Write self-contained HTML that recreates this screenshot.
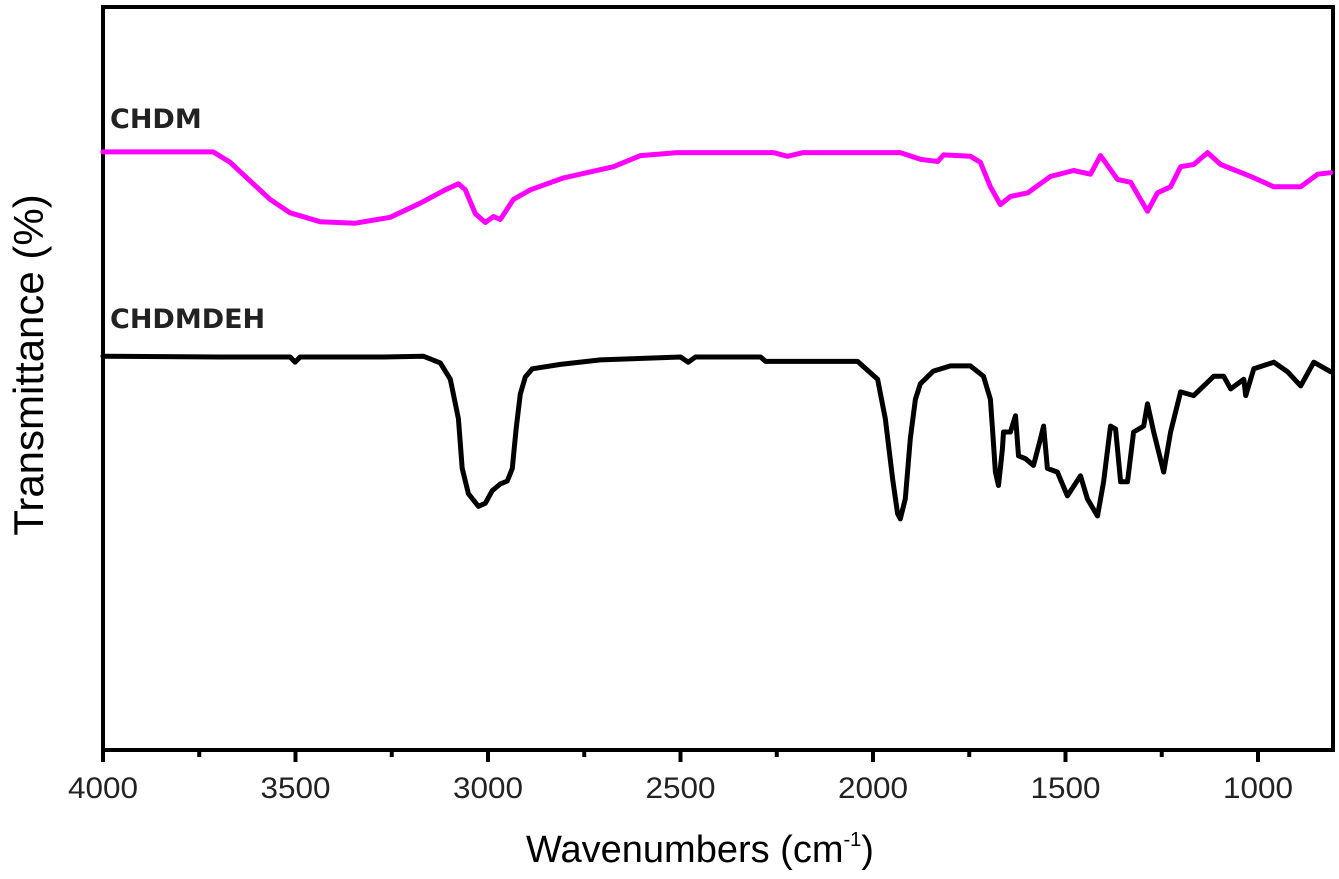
<!DOCTYPE html>
<html><head><meta charset="utf-8"><style>
html,body{margin:0;padding:0;background:#fff;}
svg{display:block;font-family:"Liberation Sans",sans-serif;}
</style></head><body>
<svg id="chart" width="1339" height="879" viewBox="0 0 1339 879">
<g id="plot"></g>
</svg>
<script>
const xTicks = [4000, 3500, 3000, 2500, 2000, 1500, 1000];
const minorTicks = [3750, 3250, 2750, 2250, 1750, 1250];
const chdmWn = [4000,3714,3670,3618,3566,3514,3436,3345,3254,3176,3111,3077,3059,3033,3007,2986,2968,2934,2890,2804,2674,2604,2508,2259,2222,2181,1929,1877,1832,1817,1747,1721,1695,1669,1643,1598,1539,1479,1435,1409,1365,1331,1287,1261,1227,1201,1167,1131,1097,1019,959,889,845,811];
const chdmT = [80.5,80.5,79.1,76.6,74.1,72.3,71.1,70.9,71.7,73.6,75.4,76.2,75.4,72.2,71.0,71.8,71.4,74.1,75.4,77.0,78.5,80.0,80.4,80.4,79.9,80.4,80.4,79.5,79.2,80.1,79.9,79.1,75.8,73.4,74.5,75.0,77.2,78.0,77.5,80.0,76.8,76.4,72.5,75.0,75.8,78.5,78.8,80.4,78.8,77.2,75.8,75.8,77.5,77.7];
const dehWn = [4000,3696,3514,3501,3488,3272,3168,3124,3098,3077,3067,3051,3025,3007,2989,2968,2950,2937,2927,2916,2903,2885,2812,2708,2500,2480,2461,2292,2279,2040,1988,1968,1949,1936,1929,1916,1903,1890,1877,1843,1799,1747,1713,1695,1689,1682,1674,1664,1661,1643,1630,1622,1604,1583,1565,1557,1547,1521,1495,1461,1443,1417,1401,1383,1370,1357,1339,1323,1297,1287,1271,1245,1227,1201,1167,1115,1089,1071,1037,1032,1011,959,923,889,855,811];
const dehT = [53.0,52.9,52.9,52.2,52.9,52.9,53.0,52.1,49.9,44.6,37.9,34.5,32.8,33.2,34.9,35.8,36.2,37.9,43.2,47.9,50.2,51.3,51.9,52.5,52.9,52.2,52.9,52.9,52.3,52.3,49.9,44.6,36.5,31.8,31.1,33.8,41.9,47.2,49.3,51.0,51.7,51.7,50.3,47.2,42.8,37.4,35.6,40.5,42.8,42.8,45.0,39.6,39.2,38.3,41.9,43.6,37.9,37.4,34.2,36.9,33.8,31.5,36.1,43.6,43.2,36.1,36.1,42.8,43.6,46.6,42.8,37.4,42.8,48.2,47.7,50.3,50.3,48.6,49.9,47.7,51.3,52.2,50.9,49.0,52.2,50.9];

const L=103, R=1333, T=7, B=750;
const X = wn => L + (4000 - wn) * 0.385;
const Y = t => B - t * 7.43;
const NS='http://www.w3.org/2000/svg';
const svg=document.getElementById('chart');
function mk(tag, attrs){const e=document.createElementNS(NS,tag);for(const k in attrs)e.setAttribute(k,attrs[k]);return e;}

const frame=mk('rect',{x:L,y:T,width:R-L,height:B-T,fill:'none',stroke:'#000','stroke-width':4});


svg.appendChild(frame);

xTicks.forEach(v=>{
  const t=mk('line',{x1:X(v),x2:X(v),y1:B,y2:B+12,stroke:'#000','stroke-width':4});
  
  
  svg.appendChild(t);
  const lb=mk('text',{x:X(v),y:798,'text-anchor':'middle','font-size':30,fill:'#222',textLength:70,lengthAdjust:'spacingAndGlyphs'});
  lb.textContent=v;
  
  
  svg.appendChild(lb);
});
minorTicks.forEach(v=>{
  const t=mk('line',{x1:X(v),x2:X(v),y1:B,y2:B+7,stroke:'#000','stroke-width':4});
  
  
  svg.appendChild(t);
});

function series(wn,tv,color,name){
  const d=wn.map((w,i)=>(i?'L':'M')+X(w).toFixed(1)+','+Y(tv[i]).toFixed(1)).join(' ');
  const p=mk('path',{d:d,fill:'none',stroke:color,'stroke-width':5,'stroke-linejoin':'round','stroke-linecap':'round'});
  
  
  svg.appendChild(p);
}
series(chdmWn,chdmT,'#ff00ff','chdm-spectrum');
series(dehWn,dehT,'#000','chdmdeh-spectrum');
</script>
<script>
const s=document.getElementById('chart');
s.insertAdjacentHTML('beforeend',
'<text x="110" y="128" font-size="27" font-weight="bold" fill="#222" font-family="DejaVu Sans, sans-serif">CHDM</text>'+
'<text x="110" y="328" font-size="27" font-weight="bold" fill="#222" font-family="DejaVu Sans, sans-serif">CHDMDEH</text>'+
'<text x="0" y="0" transform="translate(43,365) rotate(-90)" text-anchor="middle" font-size="42" fill="#000">Transmittance (%)</text>'+
'<text x="700" y="862" text-anchor="middle" font-size="38" fill="#000">Wavenumbers (cm<tspan dy="-16" font-size="20">-1</tspan><tspan dy="16">)</tspan></text>');
</script>
</body></html>
